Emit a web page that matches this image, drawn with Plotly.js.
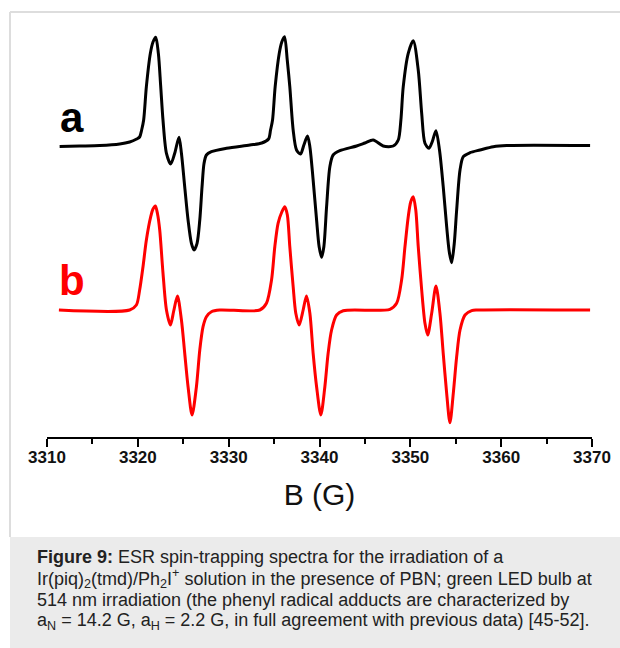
<!DOCTYPE html>
<html>
<head>
<meta charset="utf-8">
<script src="https://cdn.plot.ly/plotly-3.0.1.min.js"></script>
<style>
  html, body { margin: 0; padding: 0; background: #ffffff; }
  #chart { width: 620px; height: 648px; }
</style>
</head>
<body>
<div id="chart"></div>
<script>
// ---- Data ----
// Trace a: experimental ESR spectrum (field in G, signal in arbitrary units)
const fieldA = [3311.39, 3313.59, 3315.80, 3318.00, 3319.10, 3319.87, 3320.20, 3320.42, 3320.64, 3320.94,
  3321.38, 3321.67, 3321.97, 3322.26, 3322.52, 3322.77, 3323.15, 3323.62, 3324.06, 3324.53,
  3324.80, 3325.16, 3325.53, 3325.90, 3326.19, 3326.52, 3326.82, 3327.07, 3327.29, 3327.55,
  3328.10, 3329.76, 3332.33, 3333.65, 3334.39, 3334.61, 3334.83, 3335.12, 3335.57, 3335.85,
  3336.15, 3336.45, 3336.73, 3337.10, 3337.47, 3337.91, 3338.28, 3338.68, 3338.94, 3339.30,
  3339.68, 3339.96, 3340.23, 3340.48, 3340.78, 3341.14, 3341.50, 3342.24, 3344.08, 3345.00,
  3345.91, 3347.01, 3348.12, 3348.67, 3348.96, 3349.22, 3349.77, 3350.32, 3350.87, 3351.25,
  3351.61, 3352.05, 3352.44, 3352.82, 3353.21, 3353.62, 3354.00, 3354.29, 3354.55, 3354.83,
  3355.10, 3355.47, 3355.83, 3356.57, 3357.67, 3359.13, 3360.61, 3369.79];
const signalA = [-0.5, 0, 0.5, 2, 4, 7, 9, 16, 26, 59.3,
  92.7, 104, 108.7, 92.7, 59.3, 26, -7.3, -18, -7.3, 8.7,
  -7.3, -40.7, -74, -97.3, -104, -97.3, -74, -40.7, -17.3, -9,
  -5.7, -2.3, 1, 3, 7, 16, 26, 59.3, 92.7, 104,
  109.3, 86, 59.3, 16, -4, -8, 1, 10, -0.7, -34,
  -74, -100.7, -111.3, -100.7, -60.7, -20.7, -9, -4.7, 0, 3,
  6, 0, 0, 6, 26, 59.3, 92.7, 105.3, 76, 32.7,
  2.7, -2.3, 5, 15.3, -4, -40.7, -80.7, -106, -116.7, -98,
  -64, -24, -10.7, -6.7, -4, -0.7, 0.5, 0.5];

// Trace b: simulated spectrum
const fieldB = [3311.31, 3319.10, 3319.84, 3320.20, 3320.57, 3320.94, 3321.42, 3321.67, 3321.93, 3322.17,
  3322.41, 3322.77, 3323.15, 3323.59, 3323.95, 3324.36, 3324.80, 3325.16, 3325.53, 3325.97,
  3326.45, 3326.82, 3327.18, 3327.55, 3328.10, 3329.02, 3333.43, 3334.16, 3334.72, 3335.08,
  3335.44, 3335.85, 3336.18, 3336.46, 3336.73, 3337.10, 3337.39, 3337.76, 3338.20, 3338.57,
  3338.94, 3339.30, 3339.68, 3340.15, 3340.59, 3340.95, 3341.33, 3341.88, 3342.61, 3347.75,
  3348.49, 3349.04, 3349.41, 3349.77, 3350.04, 3350.32, 3350.60, 3350.87, 3351.25, 3351.61,
  3351.91, 3352.35, 3352.82, 3353.26, 3353.62, 3354.00, 3354.36, 3354.73, 3355.10, 3355.47,
  3356.02, 3356.75, 3357.31, 3369.79];
const signalB = [0, 0, 5, 20, 43.3, 70, 93.3, 101, 104, 96,
  80, 37, 0, -15, -1, 14, -10, -43, -76.7, -105,
  -76.7, -40, -16.7, -6.7, -1.7, 0, 0, 6.7, 30, 63.3,
  86.7, 98, 103.3, 95, 63.3, 23.3, -3.3, -15, 0, 14,
  -3.3, -43.3, -76.7, -105, -76.7, -43.3, -20, -5, -0.7, 0.7,
  6.7, 30, 63.3, 93.3, 108, 113.3, 100, 63.3, 20, -13.3,
  -25, -3.3, 24, -3.3, -43.3, -83.3, -112.7, -83.3, -46.7, -20,
  -5, -0.7, 0, 0];

const traceLabels = ['a', 'b'];
const traceColors = ['#000000', '#ff0000'];
const xAxisTitle = 'B (G)';
const captionLines = [
  '<b>Figure 9:</b> ESR spin-trapping spectra for the irradiation of a',
  'Ir(piq)<sub>2</sub>(tmd)/Ph<sub>2</sub>I<sup>+</sup> solution in the presence of PBN; green LED bulb at',
  '514 nm irradiation (the phenyl radical adducts are characterized by',
  'a<sub>N</sub> = 14.2 G, a<sub>H</sub> = 2.2 G, in full agreement with previous data) [45-52].'
];

// vertical stacking offsets of the two spectra
const OFFSET_A = 291;
const OFFSET_B = 127;

const yA = signalA.map(v => v + OFFSET_A);
const yB = signalB.map(v => v + OFFSET_B);

const FONT = 'Liberation Sans, Arial, Helvetica, sans-serif';

// pixel -> paper helpers (plot area: x 47..592, y 12..437)
const px2paperX = p => (p - 47) / 545;
const px2paperY = p => (437 - p) / 425;

const traces = [
  { x: fieldA, y: yA, type: 'scatter', mode: 'lines', name: traceLabels[0],
    line: { color: traceColors[0], width: 3, shape: 'spline', smoothing: 0.8 }, hoverinfo: 'skip' },
  { x: fieldB, y: yB, type: 'scatter', mode: 'lines', name: traceLabels[1],
    line: { color: traceColors[1], width: 3, shape: 'spline', smoothing: 0.8 }, hoverinfo: 'skip' }
];

const captionY = [557, 578.5, 600, 621.5];
const captionAnns = captionLines.map((t, i) => ({
  text: t, xref: 'paper', yref: 'paper', x: px2paperX(35), y: px2paperY(captionY[i]),
  showarrow: false, xanchor: 'left', yanchor: 'middle', align: 'left',
  font: { family: FONT, size: 18, color: '#222' }
}));

const layout = {
  width: 620, height: 648,
  margin: { l: 47, r: 28, t: 12, b: 211 },
  paper_bgcolor: '#ffffff', plot_bgcolor: 'rgba(0,0,0,0)',
  showlegend: false,
  xaxis: {
    range: [3310, 3370], dtick: 10, tick0: 3310,
    showline: true, linecolor: '#000', linewidth: 2,
    ticks: 'outside', ticklen: 8, tickwidth: 2, tickcolor: '#000',
    minor: { dtick: 5, ticks: 'outside', ticklen: 5, tickwidth: 2, tickcolor: '#000' },
    showgrid: false, zeroline: false,
    ticklabelstandoff: -4,
    tickfont: { family: FONT, size: 17, color: '#111', weight: 'bold' },
    title: { text: xAxisTitle, font: { family: FONT, size: 30, color: '#111' }, standoff: 18 }
  },
  yaxis: {
    range: [0, 425], visible: false, showgrid: false, zeroline: false
  },
  shapes: [
    { type: 'rect', xref: 'paper', yref: 'paper', x0: px2paperX(10), x1: px2paperX(621),
      y0: px2paperY(649), y1: px2paperY(537), fillcolor: '#ebebeb', line: { width: 0 }, layer: 'below' },
    { type: 'line', xref: 'paper', yref: 'paper', x0: px2paperX(10), x1: px2paperX(10),
      y0: px2paperY(537), y1: px2paperY(12), line: { color: '#dddddd', width: 2 } },
    { type: 'line', xref: 'paper', yref: 'paper', x0: px2paperX(10), x1: px2paperX(621),
      y0: px2paperY(12), y1: px2paperY(12), line: { color: '#dddddd', width: 2 } }
  ],
  annotations: [
    { text: '<b>' + traceLabels[0] + '</b>', xref: 'x', yref: 'y', x: 3312.7, y: 320,
      showarrow: false, xanchor: 'center', yanchor: 'middle',
      font: { family: FONT, size: 42, color: traceColors[0] } },
    { text: '<b>' + traceLabels[1] + '</b>', xref: 'x', yref: 'y', x: 3312.8, y: 157,
      showarrow: false, xanchor: 'center', yanchor: 'middle',
      font: { family: FONT, size: 42, color: traceColors[1] } }
  ].concat(captionAnns)
};

Plotly.newPlot('chart', traces, layout, { staticPlot: true, displayModeBar: false });
</script>
</body>
</html>
